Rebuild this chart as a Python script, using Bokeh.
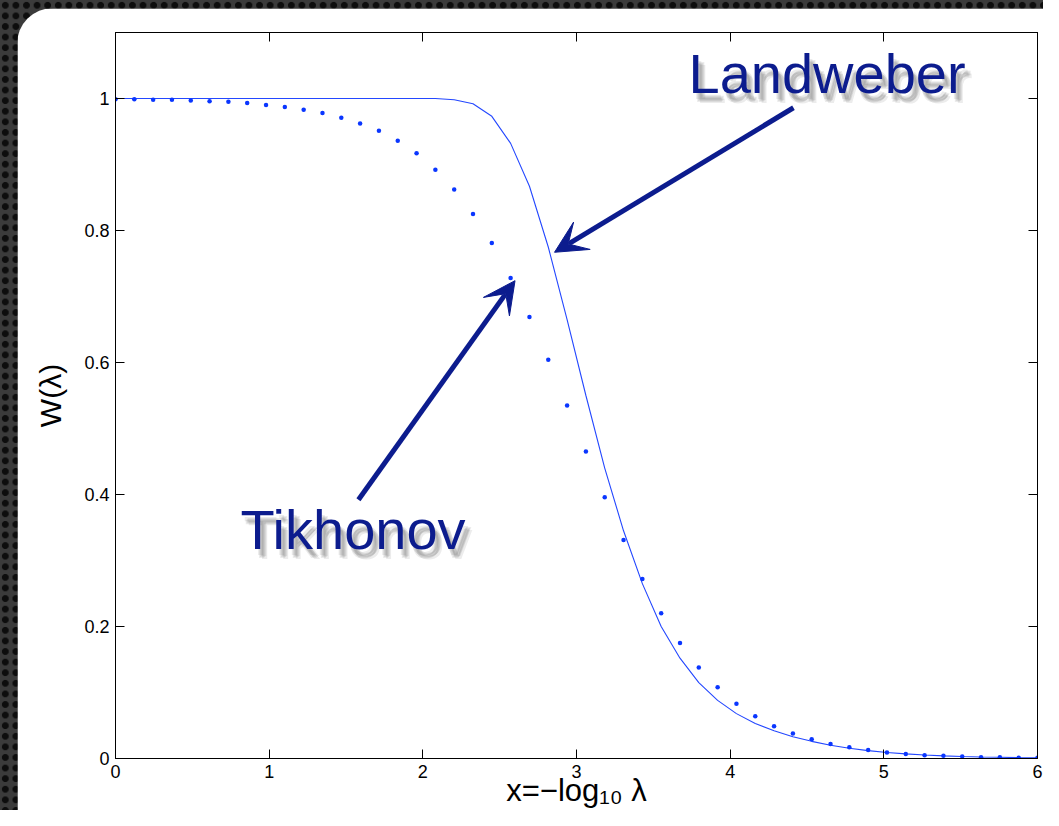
from bokeh.plotting import figure
from bokeh.layouts import row, column
from bokeh.models import (Range1d, LinearAxis, FixedTicker, Label, Arrow,
                          VeeHead, Spacer)
from bokeh.embed import file_html
from bokeh.resources import INLINE

# ---------------- data ----------------
x_vals = [0.0, 0.1224, 0.2449, 0.3673, 0.4898, 0.6122, 0.7347, 0.8571, 0.9796,
          1.1020, 1.2245, 1.3469, 1.4694, 1.5918, 1.7143, 1.8367, 1.9592,
          2.0816, 2.2041, 2.3265, 2.4490, 2.5714, 2.6939, 2.8163, 2.9388,
          3.0612, 3.1837, 3.3061, 3.4286, 3.5510, 3.6735, 3.7959, 3.9184,
          4.0408, 4.1633, 4.2857, 4.4082, 4.5306, 4.6531, 4.7755, 4.8980,
          5.0204, 5.1429, 5.2653, 5.3878, 5.5102, 5.6327, 5.7551, 5.8776, 6.0]

tikhonov = [0.999, 0.999, 0.998, 0.998, 0.997, 0.996, 0.995, 0.993, 0.990,
            0.987, 0.983, 0.978, 0.971, 0.962, 0.951, 0.936, 0.917, 0.892,
            0.862, 0.825, 0.781, 0.728, 0.669, 0.604, 0.535, 0.465, 0.396,
            0.331, 0.272, 0.220, 0.175, 0.138, 0.108, 0.083, 0.064, 0.049,
            0.038, 0.029, 0.022, 0.017, 0.013, 0.009, 0.007, 0.005, 0.004,
            0.003, 0.002, 0.002, 0.001, 0.001]

landweber = [1.0, 1.0, 1.0, 1.0, 1.0, 1.0, 1.0, 1.0, 1.0, 1.0, 1.0, 1.0, 1.0,
             1.0, 1.0, 1.0, 1.0, 1.0, 0.998, 0.992, 0.973, 0.932, 0.867, 0.775,
             0.665, 0.550, 0.440, 0.345, 0.265, 0.200, 0.152, 0.115, 0.088,
             0.068, 0.053, 0.042, 0.033, 0.026, 0.020, 0.0155, 0.012, 0.009,
             0.007, 0.0053, 0.004, 0.003, 0.0023, 0.0018, 0.0013, 0.001]

x_ticks = [0, 1, 2, 3, 4, 5, 6]
y_ticks = [0, 0.2, 0.4, 0.6, 0.8, 1.0]
y_tick_labels = {0: "0", 0.2: "0.2", 0.4: "0.4", 0.6: "0.6", 0.8: "0.8", 1.0: "1"}
x_title = "x=−log₁₀ λ"
y_title = "W(λ)"

# annotation anchor points (data coordinates)
landweber_text = (3.729, 0.9894)
tikhonov_text = (0.813, 0.300)
landweber_arrow = (4.412, 0.986, 2.857, 0.767)
tikhonov_arrow = (1.581, 0.392, 2.600, 0.724)

NAVY = "#0c1c8e"
FONT = "Liberation Sans"

fig = figure(width=1026, height=802, output_backend="svg", toolbar_location=None,
             x_range=Range1d(0, 6), y_range=Range1d(0, 1.1),
             min_border_left=98, min_border_right=6, min_border_top=24,
             min_border_bottom=52, border_fill_color="white",
             background_fill_color="white", outline_line_color="black")
fig.xgrid.visible = False
fig.ygrid.visible = False


def style_axis(ax, labels=True):
    ax.major_tick_in = 9
    ax.major_tick_out = 0
    ax.minor_tick_line_color = None
    ax.axis_line_color = "black"
    ax.major_tick_line_color = "black"
    ax.major_label_text_font = FONT
    ax.major_label_text_color = "black"
    ax.major_label_text_font_size = "18px"
    if not labels:
        ax.major_label_standoff = 0
        ax.major_label_text_font_size = "8px"


fig.xaxis.ticker = FixedTicker(ticks=x_ticks)
fig.yaxis.ticker = FixedTicker(ticks=y_ticks)
fig.yaxis.major_label_overrides = y_tick_labels
style_axis(fig.xaxis[0])
style_axis(fig.yaxis[0])
fig.xaxis.major_label_standoff = 6
fig.yaxis.major_label_standoff = 6

fig.yaxis.axis_label = y_title
fig.yaxis.axis_label_text_font = FONT
fig.yaxis.axis_label_text_font_size = "30px"
fig.yaxis.axis_label_text_font_style = "normal"
fig.yaxis.axis_label_text_color = "black"
fig.yaxis.axis_label_standoff = 14

fig.xaxis.axis_label = x_title
fig.xaxis.axis_label_text_font = FONT
fig.xaxis.axis_label_text_font_size = "31px"
fig.xaxis.axis_label_text_font_style = "normal"
fig.xaxis.axis_label_text_color = "black"
fig.xaxis.axis_label_text_line_height = 1.0
fig.xaxis.axis_label_standoff = -8

top_ax = LinearAxis(ticker=FixedTicker(ticks=x_ticks),
                    major_label_overrides={t: "" for t in x_ticks})
style_axis(top_ax, labels=False)
fig.add_layout(top_ax, "above")
right_ax = LinearAxis(ticker=FixedTicker(ticks=y_ticks),
                      major_label_overrides={t: "" for t in y_ticks})
style_axis(right_ax, labels=False)
fig.add_layout(right_ax, "right")

# curves
fig.line(x_vals, landweber, line_width=1.1, line_color="#2347ff")
fig.scatter(x_vals, tikhonov, size=4.5, fill_color="#0a36ff", line_color=None)

# callout texts with soft drop shadow
for (tx, ty), txt in [(landweber_text, "Landweber"), (tikhonov_text, "Tikhonov")]:
    for dx, dy in [(3, -6), (5, -8), (7, -10), (4, -9), (6, -7)]:
        fig.add_layout(Label(x=tx, y=ty, text=txt, text_font=FONT,
                             text_font_size="56px", text_color="#404040",
                             text_alpha=0.10, x_offset=dx, y_offset=dy))
    fig.add_layout(Label(x=tx, y=ty, text=txt, text_font=FONT,
                         text_font_size="56px", text_color=NAVY))

for xs, ys, xe, ye in [landweber_arrow, tikhonov_arrow]:
    fig.add_layout(Arrow(end=VeeHead(size=32, fill_color=NAVY, line_color=NAVY),
                         x_start=xs, y_start=ys, x_end=xe, y_end=ye,
                         line_color=NAVY, line_width=5))

# slide: white rounded panel on a dark dotted background
fig.styles = {"border-top-left-radius": "36px", "overflow": "hidden"}
dots_css = {"background-color": "#3b3b3b",
            "background-image": "radial-gradient(circle, #0d0d0d 3px, rgba(0,0,0,0) 3.8px)",
            "background-size": "10.6px 10.6px"}
left_strip = Spacer(width=17, height=810)
top_strip = Spacer(width=1026, height=8)
p = row(left_strip, column(top_strip, fig), styles=dots_css)

open("out.html", "w").write(file_html(p, INLINE))
